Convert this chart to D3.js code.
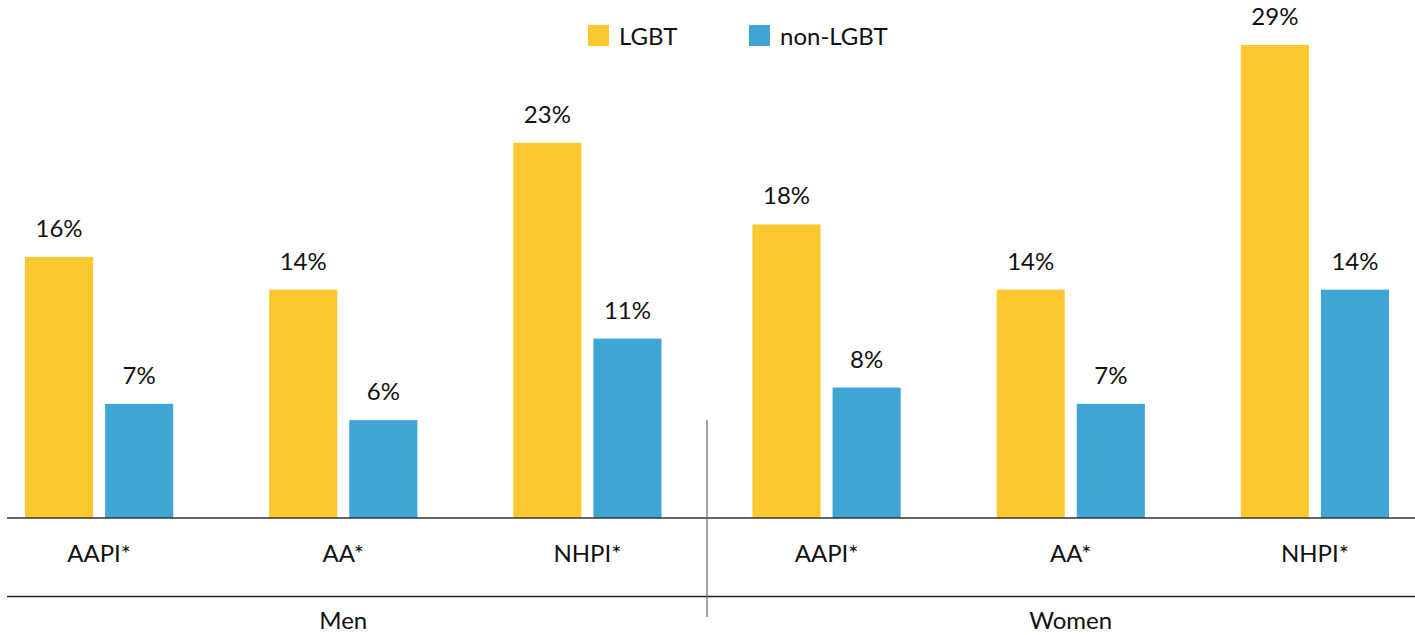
<!DOCTYPE html>
<html>
<head>
<meta charset="utf-8">
<script src="https://cdn.jsdelivr.net/npm/d3@7"></script>
<style>
  body { margin: 0; background: #fff; }
  text { font-family: Lato, "Open Sans", sans-serif; fill: #111; }
</style>
</head>
<body>
<div class="chart"></div>
<script>
// values
var groups = ["Men", "Women"];
var categories = ["AAPI*", "AA*", "NHPI*"];
var seriesNames = ["LGBT", "non-LGBT"];
var lgbt = [16, 14, 23, 18, 14, 29];
var nonLgbt = [7, 6, 11, 8, 7, 14];
var colors = ["#fdc82d", "#3ea6d5"];

var width = 1415, height = 635;
var baseline = 518;

var svg = d3.select(".chart").append("svg")
    .attr("width", width)
    .attr("height", height);

// gender halves
var xg = d3.scaleBand()
    .domain(groups)
    .range([25, 1389])
    .paddingInner(0.125)
    .paddingOuter(0);

// categories inside a half
var xc = d3.scaleBand()
    .domain(categories)
    .range([0, xg.bandwidth()])
    .paddingInner(0.393)
    .paddingOuter(0);

// bars inside a category
var xs = d3.scaleBand()
    .domain(seriesNames)
    .range([0, xc.bandwidth()])
    .paddingInner(0.15);

var y = d3.scaleLinear()
    .domain([0, 29])
    .range([baseline, 45]);

var color = d3.scaleOrdinal().domain(seriesNames).range(colors);

var half = svg.selectAll(".half")
    .data(groups)
    .enter().append("g")
    .attr("class", "half")
    .attr("transform", function (d) { return "translate(" + xg(d) + ",0)"; });

var cat = half.selectAll(".cat")
    .data(function (g, gi) {
        return categories.map(function (c, ci) {
            var i = gi * categories.length + ci;
            return { cat: c, values: [lgbt[i], nonLgbt[i]] };
        });
    })
    .enter().append("g")
    .attr("class", "cat")
    .attr("transform", function (d) { return "translate(" + xc(d.cat) + ",0)"; });

var bars = cat.selectAll(".bar")
    .data(function (d) {
        return seriesNames.map(function (s, i) { return { s: s, v: d.values[i] }; });
    })
    .enter();

bars.append("rect")
    .attr("class", "bar")
    .attr("x", function (d) { return xs(d.s); })
    .attr("width", xs.bandwidth())
    .attr("y", function (d) { return y(d.v); })
    .attr("height", function (d) { return baseline - y(d.v); })
    .style("fill", function (d) { return color(d.s); });

bars.append("text")
    .attr("x", function (d) { return xs(d.s) + xs.bandwidth() / 2; })
    .attr("y", function (d) { return y(d.v) - 20; })
    .attr("text-anchor", "middle")
    .style("font-size", "24px")
    .text(function (d) { return d.v + "%"; });

// category labels
cat.append("text")
    .attr("x", xc.bandwidth() / 2)
    .attr("y", 562)
    .attr("text-anchor", "middle")
    .style("font-size", "24px")
    .text(function (d) { return d.cat; });

// group labels
half.append("text")
    .attr("x", xg.bandwidth() / 2)
    .attr("y", 629)
    .attr("text-anchor", "middle")
    .style("font-size", "24px")
    .text(function (d) { return d; });

// axis lines
svg.append("line")
    .attr("x1", 7).attr("x2", width)
    .attr("y1", baseline).attr("y2", baseline)
    .style("stroke", "#333").style("stroke-width", 1.3);

svg.append("line")
    .attr("x1", 7).attr("x2", width)
    .attr("y1", 596.5).attr("y2", 596.5)
    .style("stroke", "#222").style("stroke-width", 1.3);

// separator between men and women
var sepX = (xg("Men") + xg.bandwidth() + xg("Women")) / 2;
svg.append("line")
    .attr("x1", sepX).attr("x2", sepX)
    .attr("y1", 420).attr("y2", 617)
    .style("stroke", "#666").style("stroke-width", 1.2);

// legend
var legendX = [588, 749];
var legend = svg.selectAll(".legend")
    .data(seriesNames)
    .enter().append("g")
    .attr("class", "legend")
    .attr("transform", function (d, i) { return "translate(" + legendX[i] + ",25)"; });

legend.append("rect")
    .attr("width", 21)
    .attr("height", 21)
    .style("fill", function (d) { return color(d); });

legend.append("text")
    .attr("x", 31)
    .attr("y", 20)
    .style("font-size", "24px")
    .text(function (d) { return d; });
</script>
</body>
</html>
